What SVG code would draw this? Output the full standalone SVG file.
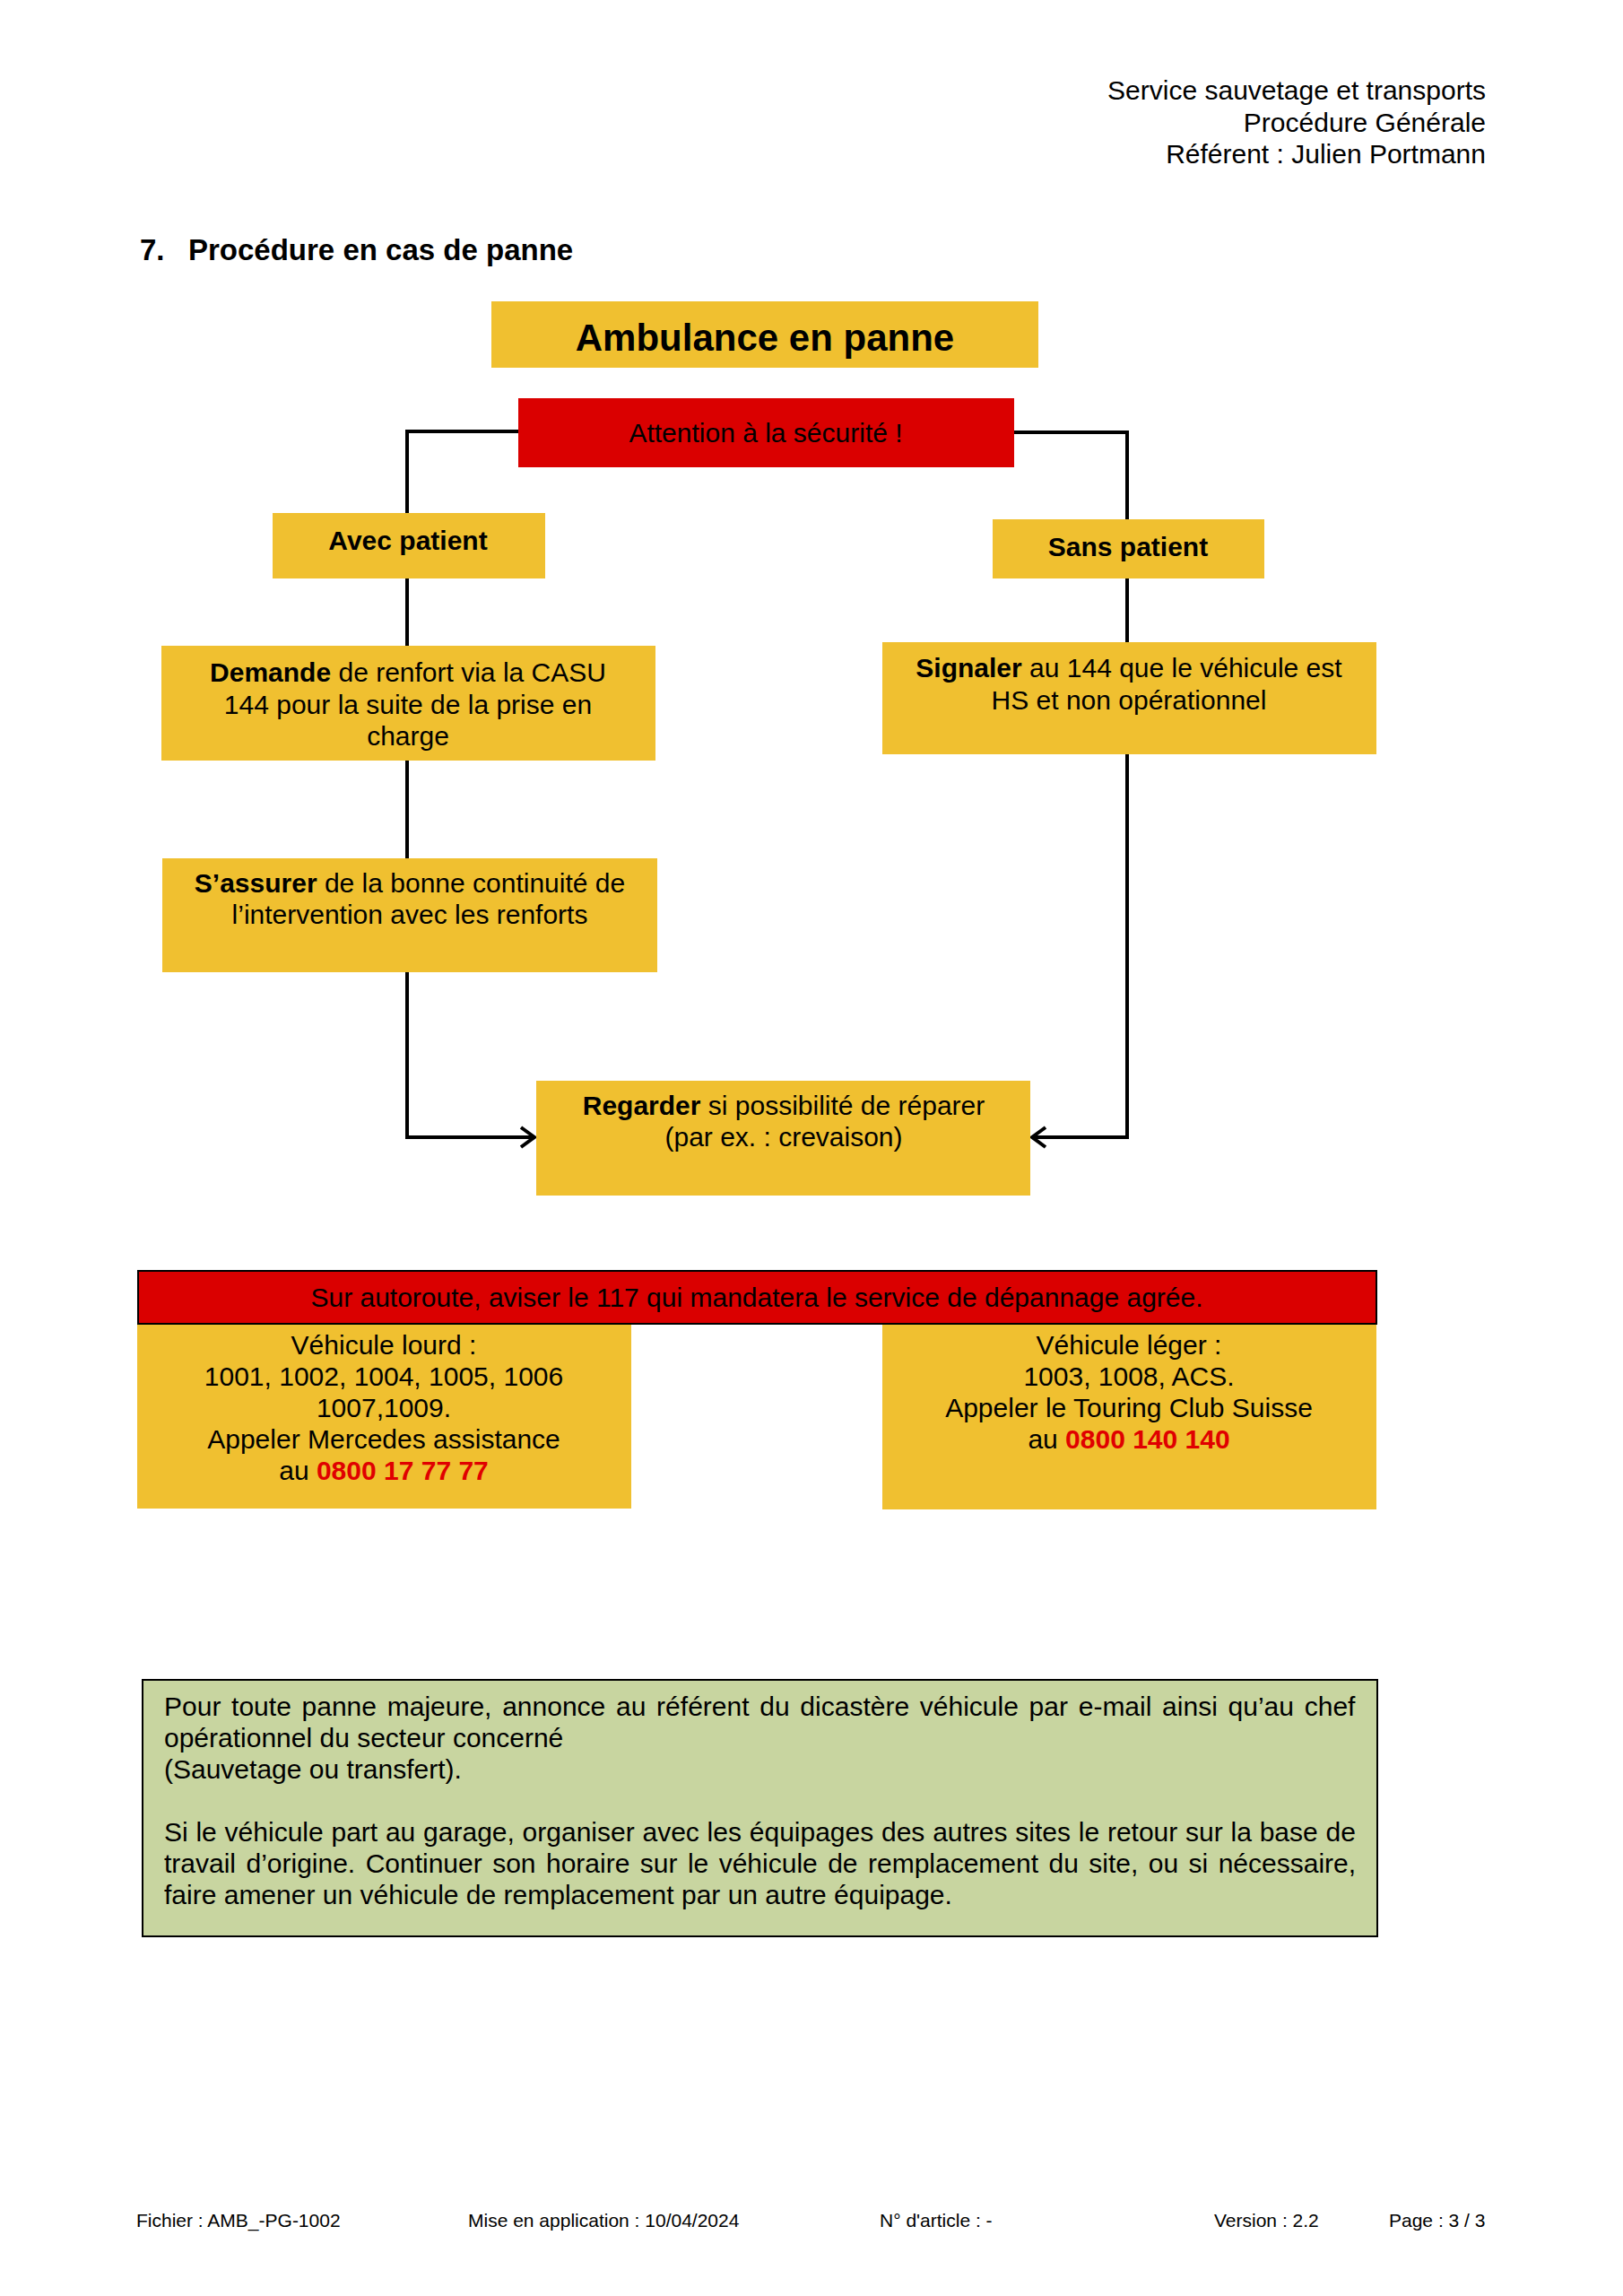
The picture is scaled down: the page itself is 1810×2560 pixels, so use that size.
<svg xmlns="http://www.w3.org/2000/svg" width="1810" height="2560" viewBox="0 0 1810 2560">
<style>
text{font-family:"Liberation Sans",Arial,sans-serif;fill:#000}
.y{fill:#F0C030}
.r{fill:#DA0000}
.t30{font-size:30px}
.c{text-anchor:middle}
.b{font-weight:bold}
.ph{fill:#E00000;font-weight:bold}
.ln{fill:none;stroke:#000;stroke-width:4}
.ft{font-size:21px}
</style>
<defs>
<marker id="chev" markerUnits="userSpaceOnUse" markerWidth="24" markerHeight="30" refX="18" refY="13" orient="auto" viewBox="0 0 24 30">
<path d="M3,2 L18,13 L3,24" fill="none" stroke="#000" stroke-width="4"/>
</marker>
</defs>
<rect width="1810" height="2560" fill="#fff"/>
<g id="header">
<text x="1657" y="111" class="t30" text-anchor="end">Service sauvetage et transports</text>
<text x="1657" y="147" class="t30" text-anchor="end">Procédure Générale</text>
<text x="1657" y="182" class="t30" text-anchor="end">Référent : Julien Portmann</text>
</g>
<g id="section-title">
<text x="156" y="290" font-size="33" class="b">7.</text>
<text x="210" y="290" font-size="33" class="b">Procédure en cas de panne</text>
</g>
<g id="connectors">
<polyline class="ln" points="578,481 454,481 454,572"/>
<polyline class="ln" points="1131,482 1257,482 1257,579"/>
<line class="ln" x1="454" y1="645" x2="454" y2="720"/>
<line class="ln" x1="454" y1="848" x2="454" y2="957"/>
<line class="ln" x1="1257" y1="645" x2="1257" y2="716"/>
<polyline class="ln" points="454,1084 454,1268 596,1268" marker-end="url(#chev)"/>
<polyline class="ln" points="1257,841 1257,1268 1151,1268" marker-end="url(#chev)"/>
</g>
<g id="n-ambulance">
<rect class="y" x="548" y="336" width="610" height="74"/>
<text x="853" y="391" font-size="42" class="c b">Ambulance en panne</text>
</g>
<g id="n-attention">
<rect class="r" x="578" y="444" width="553" height="77"/>
<text x="854" y="493" class="t30 c">Attention à la sécurité !</text>
</g>
<g id="n-avec">
<rect class="y" x="304" y="572" width="304" height="73"/>
<text x="455" y="613" class="t30 c b">Avec patient</text>
</g>
<g id="n-sans">
<rect class="y" x="1107" y="579" width="303" height="66"/>
<text x="1258" y="620" class="t30 c b">Sans patient</text>
</g>
<g id="n-demande">
<rect class="y" x="180" y="720" width="551" height="128"/>
<text x="455" y="760" class="t30 c"><tspan class="b">Demande</tspan> de renfort via la CASU</text>
<text x="455" y="796" class="t30 c">144 pour la suite de la prise en</text>
<text x="455" y="831" class="t30 c">charge</text>
</g>
<g id="n-assurer">
<rect class="y" x="181" y="957" width="552" height="127"/>
<text x="457" y="995" class="t30 c"><tspan class="b">S’assurer</tspan> de la bonne continuité de</text>
<text x="457" y="1030" class="t30 c">l’intervention avec les renforts</text>
</g>
<g id="n-signaler">
<rect class="y" x="984" y="716" width="551" height="125"/>
<text x="1259" y="755" class="t30 c"><tspan class="b">Signaler</tspan> au 144 que le véhicule est</text>
<text x="1259" y="791" class="t30 c">HS et non opérationnel</text>
</g>
<g id="n-regarder">
<rect class="y" x="598" y="1205" width="551" height="128"/>
<text x="874" y="1243" class="t30 c"><tspan class="b">Regarder</tspan> si possibilité de réparer</text>
<text x="874" y="1278" class="t30 c">(par ex. : crevaison)</text>
</g>
<g id="n-autoroute">
<rect class="r" x="154" y="1417" width="1381" height="59" stroke="#000" stroke-width="2"/>
<text x="844" y="1457" class="t30 c">Sur autoroute, aviser le 117 qui mandatera le service de dépannage agrée.</text>
</g>
<g id="n-lourd">
<rect class="y" x="153" y="1477" width="551" height="205"/>
<text x="428" y="1510" class="t30 c">Véhicule lourd :</text>
<text x="428" y="1545" class="t30 c">1001, 1002, 1004, 1005, 1006</text>
<text x="428" y="1580" class="t30 c">1007,1009.</text>
<text x="428" y="1615" class="t30 c">Appeler Mercedes assistance</text>
<text x="428" y="1650" class="t30 c">au <tspan class="ph">0800 17 77 77</tspan></text>
</g>
<g id="n-leger">
<rect class="y" x="984" y="1477" width="551" height="206"/>
<text x="1259" y="1510" class="t30 c">Véhicule léger :</text>
<text x="1259" y="1545" class="t30 c">1003, 1008, ACS.</text>
<text x="1259" y="1580" class="t30 c">Appeler le Touring Club Suisse</text>
<text x="1259" y="1615" class="t30 c">au <tspan class="ph">0800 140 140</tspan></text>
</g>
<g id="n-note">
<rect x="159" y="1873" width="1377" height="286" fill="#C8D5A0" stroke="#000" stroke-width="2"/>
<text x="183" y="1913" class="t30" word-spacing="3.4">Pour toute panne majeure, annonce au référent du dicastère véhicule par e-mail ainsi qu’au chef</text>
<text x="183" y="1948" class="t30">opérationnel du secteur concerné</text>
<text x="183" y="1983" class="t30">(Sauvetage ou transfert).</text>
<text x="183" y="2053" class="t30" word-spacing="0.45">Si le véhicule part au garage, organiser avec les équipages des autres sites le retour sur la base de</text>
<text x="183" y="2088" class="t30" word-spacing="3.1">travail d’origine. Continuer son horaire sur le véhicule de remplacement du site, ou si nécessaire,</text>
<text x="183" y="2123" class="t30">faire amener un véhicule de remplacement par un autre équipage.</text>
</g>
<g id="footer">
<text x="152" y="2483" class="ft">Fichier : AMB_-PG-1002</text>
<text x="522" y="2483" class="ft">Mise en application : 10/04/2024</text>
<text x="981" y="2483" class="ft">N° d'article : -</text>
<text x="1354" y="2483" class="ft">Version : 2.2</text>
<text x="1549" y="2483" class="ft">Page : 3 / 3</text>
</g>
</svg>
